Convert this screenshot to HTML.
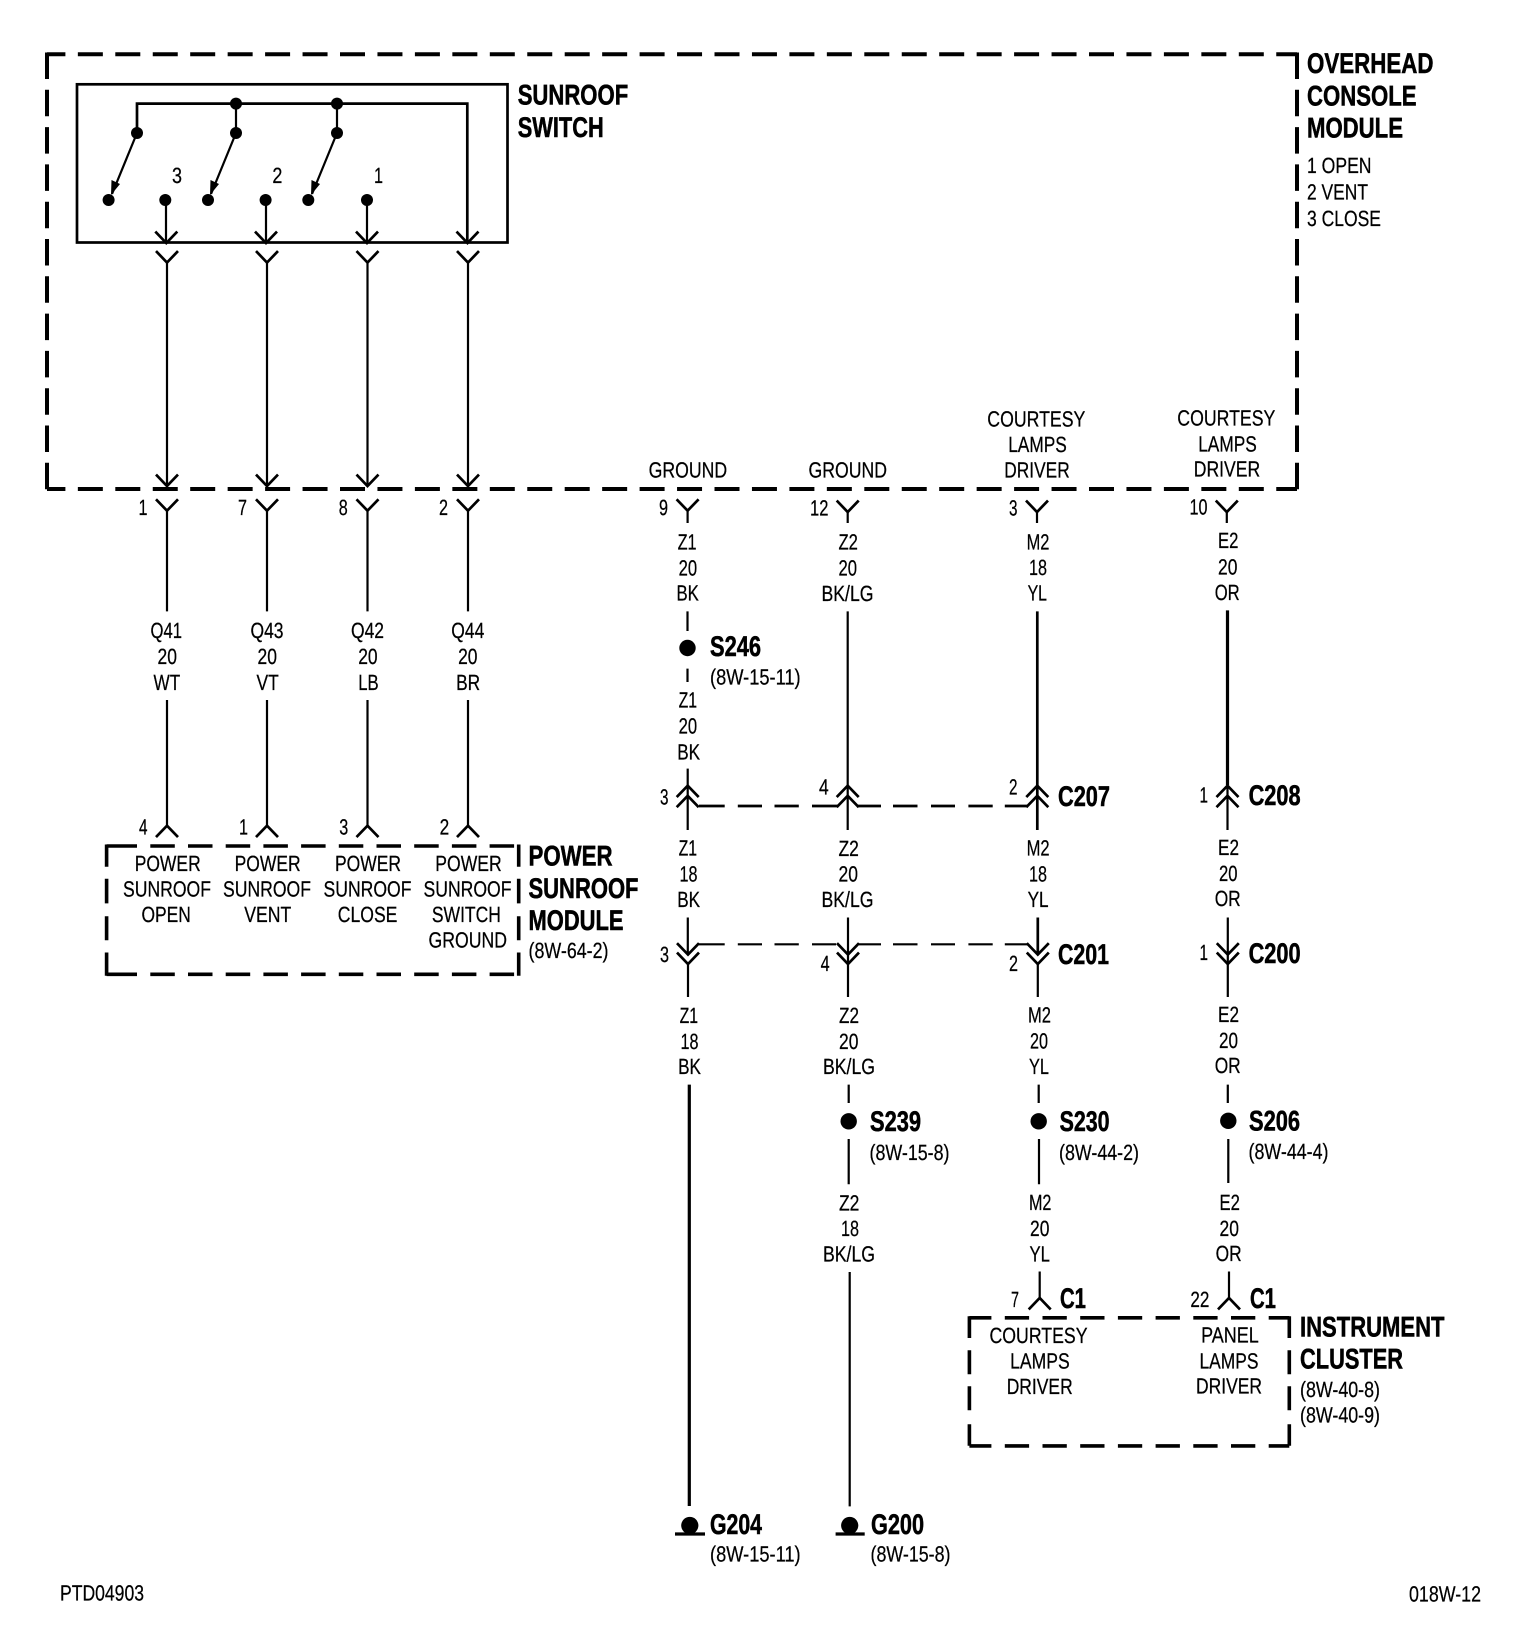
<!DOCTYPE html>
<html><head><meta charset="utf-8"><style>
html,body{margin:0;padding:0;background:#fff}
svg{display:block}
text{font-family:"Liberation Sans",Arial,sans-serif;fill:#000;font-size:22px;text-rendering:geometricPrecision;stroke:#000;stroke-width:.25}
text.b{font-weight:bold;font-size:28.5px;stroke:#000;stroke-width:.55}
.l{stroke:#000;fill:none;stroke-width:2.2}
.t{stroke:#000;fill:none;stroke-width:2.7}
.h{stroke:#000;fill:none;stroke-width:3.2}
.d{stroke:#000;fill:none;stroke-width:4}
.m{stroke:#000;fill:none;stroke-width:3.6}
</style></head><body>
<svg width="1520" height="1648" viewBox="0 0 1520 1648" xmlns="http://www.w3.org/2000/svg">
<defs>
<path id="v" d="M-11,-11.4L0,0L11,-11.4" class="t"/>
<path id="u" d="M-11,11.4L0,0L11,11.4" class="t"/>
</defs>
<rect width="1520" height="1648" fill="#fff"/>

<!-- overhead console outer dashed box -->
<path class="d" d="M47,54.3H1297" stroke-dasharray="25 12.45" stroke-dashoffset="6.6"/>
<path class="d" d="M47,489H1297" stroke-dasharray="25 12.45" stroke-dashoffset="6.6"/>
<path class="d" d="M47,52.5V490.8" stroke-dasharray="26.5 10.8"/>
<path class="d" d="M1297,52.5V490.8" stroke-dasharray="26.5 10.8"/>

<!-- sunroof switch -->
<rect x="77" y="84.3" width="430.5" height="158.2" class="t"/>
<path class="t" d="M137,133V103.6H467.3V243"/>
<path class="l" d="M236,103.6V133M337,103.6V133"/>
<g>
<ellipse cx="137" cy="133" rx="6" ry="6"/><ellipse cx="236" cy="103.6" rx="6" ry="6"/><ellipse cx="236" cy="133" rx="6" ry="6"/><ellipse cx="337" cy="103.6" rx="6" ry="6"/><ellipse cx="337" cy="133" rx="6" ry="6"/>
<ellipse cx="108.6" cy="200" rx="6" ry="6"/><ellipse cx="165.3" cy="200" rx="6" ry="6"/><ellipse cx="208" cy="200" rx="6" ry="6"/><ellipse cx="265.6" cy="200" rx="6" ry="6"/><ellipse cx="308.3" cy="200" rx="6" ry="6"/><ellipse cx="367" cy="200" rx="6" ry="6"/>
</g>
<path class="l" d="M137,133L112,194M236,133L211,194M337,133L312,194"/>
<path d="M111,195L111.5,180L120,184ZM210,195L210.5,180L219,184ZM311,195L311.5,180L320,184Z"/>
<path class="l" d="M166,200V243M266,200V243M367,200V243"/>
<use href="#v" x="166.3" y="243"/><use href="#v" x="266" y="243"/><use href="#v" x="367" y="243"/><use href="#v" x="467.5" y="243"/>

<!-- four wires inside console -->
<g>
<use href="#v" x="167" y="262.5"/><use href="#v" x="267" y="262.5"/><use href="#v" x="367.5" y="262.5"/><use href="#v" x="468" y="262.5"/>
<use href="#v" x="167" y="486"/><use href="#v" x="267" y="486"/><use href="#v" x="367.5" y="486"/><use href="#v" x="468" y="486"/>
<use href="#v" x="167" y="510.7"/><use href="#v" x="267" y="510.7"/><use href="#v" x="367.5" y="510.7"/><use href="#v" x="468" y="510.7"/>
<use href="#u" x="167" y="825.7"/><use href="#u" x="267" y="825.7"/><use href="#u" x="367.5" y="825.7"/><use href="#u" x="468" y="825.7"/>
</g>
<path class="l" d="M167,262V486M267,262V486M367.5,262V486M468,262V486"/>
<path class="l" d="M167,510V611.4M267,510V611.4M367.5,510V611.4M468,510V611.4"/>
<path class="l" d="M167,700V826M267,700V826M367.5,700V826M468,700V826"/>

<!-- power sunroof module box -->
<path class="m" d="M106.6,846H137"/>
<path class="m" d="M150.3,846H518.7" stroke-dasharray="24.5 13.2"/>
<path class="m" d="M106.6,974.3H137"/>
<path class="m" d="M150.3,974.3H518.7" stroke-dasharray="24.5 13.2"/>
<path class="m" d="M106.6,844.5V975.8" stroke-dasharray="22.3 12 24.6 12.8 24 12.3 24"/>
<path class="m" d="M518.7,844.5V975.8" stroke-dasharray="22.3 12 24.6 12.8 24 12.3 24"/>

<!-- column 1 (Z1) -->
<use href="#v" x="687.6" y="510.7"/><path class="l" d="M687.6,510V523"/>
<path class="l" d="M687.5,611.4V631M687.5,668.6V682"/>
<circle cx="687.5" cy="648" r="8.2"/>
<path class="l" d="M687.7,768.6V830"/><use href="#u" x="687.7" y="785.7"/><use href="#u" x="687.7" y="795.8"/>
<path class="l" d="M687.8,917.5V954M688,964V997"/><use href="#v" x="688" y="954.6"/><use href="#v" x="688" y="964"/>
<path class="h" d="M689.3,1084.6V1506"/>
<circle cx="689.8" cy="1525.5" r="8.6"/><path class="h" d="M675,1534H705"/>

<!-- column 2 (Z2) -->
<use href="#v" x="847.7" y="512"/><path class="l" d="M847.7,511V523"/>
<path class="l" d="M847.7,611.4V830"/><use href="#u" x="847.7" y="785.7"/><use href="#u" x="847.7" y="795.8"/>
<path class="l" d="M848,917.5V997"/><use href="#v" x="848" y="954.6"/><use href="#v" x="848" y="964"/>
<path class="l" d="M848.7,1084.6V1103M848.7,1139V1184.3M849.7,1272V1506.4"/>
<circle cx="848.7" cy="1121.3" r="8.2"/>
<circle cx="849.7" cy="1525.5" r="8.6"/><path class="h" d="M835.6,1534H864.7"/>

<!-- column 3 (M2) -->
<use href="#v" x="1037" y="512"/><path class="l" d="M1037,511V523"/>
<path class="t" d="M1037.3,611.4V830"/><use href="#u" x="1037.3" y="785.7"/><use href="#u" x="1037.3" y="795.8"/>
<path class="t" d="M1037.8,917.5V954"/><path class="l" d="M1037.8,964V997"/><use href="#v" x="1037.8" y="954.6"/><use href="#v" x="1037.8" y="964"/>
<path class="l" d="M1038.7,1084.6V1103M1039,1139V1184.3M1039.7,1271.5V1298"/>
<circle cx="1038.7" cy="1121.3" r="8.2"/>
<use href="#u" x="1039.7" y="1298"/>

<!-- column 4 (E2) -->
<use href="#v" x="1226.8" y="512"/><path class="l" d="M1226.8,511V523"/>
<path class="h" d="M1227.5,610.4V785"/><path class="l" d="M1227.5,785V830"/><use href="#u" x="1227.5" y="785.7"/><use href="#u" x="1227.5" y="795.8"/>
<path class="l" d="M1227.8,917.5V997"/><use href="#v" x="1227.8" y="954.6"/><use href="#v" x="1227.8" y="964"/>
<path class="l" d="M1227.8,1084.6V1103M1228.3,1139V1183M1229,1271.5V1298"/>
<circle cx="1228.3" cy="1120.8" r="8.2"/>
<use href="#u" x="1229" y="1298"/>

<!-- splice dashes between connectors -->
<path class="t" d="M699,806H724.7M737.8,806H762M774.5,806H798.8M812,806H838M858,806H881M893,806H917.5M931,806H955M968.4,806H992.7M1004.8,806H1028"/>
<path class="l" d="M699,944.3H724.7M737.8,944.3H762M774.5,944.3H798.8M812,944.3H836M859,944.3H881M893,944.3H917.5M931,944.3H955M968.4,944.3H992.7M1004.8,944.3H1027"/>

<!-- instrument cluster box -->
<path class="m" d="M969.4,1317.8H1289.3" stroke-dasharray="24.3 13.4" stroke-dashoffset="2.3"/>
<path class="m" d="M969.4,1445.9H1289.3" stroke-dasharray="24.3 13.4" stroke-dashoffset="2.3"/>
<path class="m" d="M969.4,1316.3V1447.4" stroke-dasharray="21.7 12.3 24 12 24 14 21.5"/>
<path class="m" d="M1289.3,1316.3V1447.4" stroke-dasharray="21.7 12.3 24 12 24 14 21.5"/>

<!-- bold labels -->
<text class="b" x="517.7" y="104.6" textLength="110.5" lengthAdjust="spacingAndGlyphs">SUNROOF</text>
<text class="b" x="517.7" y="136.8" textLength="86" lengthAdjust="spacingAndGlyphs">SWITCH</text>
<text class="b" x="1307" y="73.2" textLength="126.5" lengthAdjust="spacingAndGlyphs">OVERHEAD</text>
<text class="b" x="1307" y="105.4" textLength="109.5" lengthAdjust="spacingAndGlyphs">CONSOLE</text>
<text class="b" x="1307" y="137.5" textLength="96" lengthAdjust="spacingAndGlyphs">MODULE</text>
<text class="b" x="528.5" y="865.7" textLength="84" lengthAdjust="spacingAndGlyphs">POWER</text>
<text class="b" x="528.5" y="898" textLength="110" lengthAdjust="spacingAndGlyphs">SUNROOF</text>
<text class="b" x="528.5" y="930" textLength="95" lengthAdjust="spacingAndGlyphs">MODULE</text>
<text class="b" x="710" y="656" textLength="51" lengthAdjust="spacingAndGlyphs">S246</text>
<text class="b" x="1058" y="806" textLength="52" lengthAdjust="spacingAndGlyphs">C207</text>
<text class="b" x="1248.6" y="805" textLength="52" lengthAdjust="spacingAndGlyphs">C208</text>
<text class="b" x="1058" y="964" textLength="51" lengthAdjust="spacingAndGlyphs">C201</text>
<text class="b" x="1248.6" y="963" textLength="52" lengthAdjust="spacingAndGlyphs">C200</text>
<text class="b" x="870" y="1131" textLength="51" lengthAdjust="spacingAndGlyphs">S239</text>
<text class="b" x="1059.6" y="1131" textLength="50" lengthAdjust="spacingAndGlyphs">S230</text>
<text class="b" x="1249" y="1130.5" textLength="51" lengthAdjust="spacingAndGlyphs">S206</text>
<text class="b" x="1060" y="1308" textLength="26" lengthAdjust="spacingAndGlyphs">C1</text>
<text class="b" x="1250" y="1308" textLength="26" lengthAdjust="spacingAndGlyphs">C1</text>
<text class="b" x="1300" y="1336.6" textLength="144.5" lengthAdjust="spacingAndGlyphs">INSTRUMENT</text>
<text class="b" x="1300" y="1368.6" textLength="103" lengthAdjust="spacingAndGlyphs">CLUSTER</text>
<text class="b" x="710" y="1534" textLength="52" lengthAdjust="spacingAndGlyphs">G204</text>
<text class="b" x="871" y="1534" textLength="53" lengthAdjust="spacingAndGlyphs">G200</text>

<!-- switch numbers and console notes -->
<text x="172" y="183" textLength="10" lengthAdjust="spacingAndGlyphs">3</text>
<text x="272.4" y="183" textLength="10" lengthAdjust="spacingAndGlyphs">2</text>
<text x="374" y="183" textLength="9" lengthAdjust="spacingAndGlyphs">1</text>
<text x="1307" y="173" textLength="64.5" lengthAdjust="spacingAndGlyphs">1 OPEN</text>
<text x="1307" y="199.6" textLength="61" lengthAdjust="spacingAndGlyphs">2 VENT</text>
<text x="1307" y="226" textLength="74" lengthAdjust="spacingAndGlyphs">3 CLOSE</text>

<!-- console pin labels -->
<text x="648.6" y="477.7" textLength="78.5" lengthAdjust="spacingAndGlyphs">GROUND</text>
<text x="808.5" y="477.7" textLength="78.5" lengthAdjust="spacingAndGlyphs">GROUND</text>
<text x="987.3" y="426.3" textLength="98" lengthAdjust="spacingAndGlyphs">COURTESY</text>
<text x="1008.2" y="452" textLength="58.6" lengthAdjust="spacingAndGlyphs">LAMPS</text>
<text x="1004.3" y="477.5" textLength="65.4" lengthAdjust="spacingAndGlyphs">DRIVER</text>
<text x="1177.3" y="425.5" textLength="98" lengthAdjust="spacingAndGlyphs">COURTESY</text>
<text x="1198.2" y="451.3" textLength="58.6" lengthAdjust="spacingAndGlyphs">LAMPS</text>
<text x="1193.8" y="476.5" textLength="66.4" lengthAdjust="spacingAndGlyphs">DRIVER</text>
<text x="138.5" y="515" textLength="9" lengthAdjust="spacingAndGlyphs">1</text>
<text x="238" y="515" textLength="9" lengthAdjust="spacingAndGlyphs">7</text>
<text x="338.8" y="515" textLength="9" lengthAdjust="spacingAndGlyphs">8</text>
<text x="439" y="515" textLength="9" lengthAdjust="spacingAndGlyphs">2</text>
<text x="659" y="515" textLength="9" lengthAdjust="spacingAndGlyphs">9</text>
<text x="810" y="515.5" textLength="18.4" lengthAdjust="spacingAndGlyphs">12</text>
<text x="1009" y="515.5" textLength="8.5" lengthAdjust="spacingAndGlyphs">3</text>
<text x="1189.5" y="514.5" textLength="18" lengthAdjust="spacingAndGlyphs">10</text>

<!-- Q wires -->
<text x="150.5" y="638.2" textLength="31.5" lengthAdjust="spacingAndGlyphs">Q41</text>
<text x="157.5" y="664" textLength="19.4" lengthAdjust="spacingAndGlyphs">20</text>
<text x="153.5" y="690" textLength="26.7" lengthAdjust="spacingAndGlyphs">WT</text>
<text x="250.5" y="638.2" textLength="33" lengthAdjust="spacingAndGlyphs">Q43</text>
<text x="257.5" y="664" textLength="19.4" lengthAdjust="spacingAndGlyphs">20</text>
<text x="256.5" y="690" textLength="22.3" lengthAdjust="spacingAndGlyphs">VT</text>
<text x="351" y="638.2" textLength="33" lengthAdjust="spacingAndGlyphs">Q42</text>
<text x="358.2" y="664" textLength="19.4" lengthAdjust="spacingAndGlyphs">20</text>
<text x="358.2" y="690" textLength="20.4" lengthAdjust="spacingAndGlyphs">LB</text>
<text x="451.3" y="638.2" textLength="33" lengthAdjust="spacingAndGlyphs">Q44</text>
<text x="458.1" y="664" textLength="19.4" lengthAdjust="spacingAndGlyphs">20</text>
<text x="456.1" y="690" textLength="24" lengthAdjust="spacingAndGlyphs">BR</text>
<text x="139" y="834.6" textLength="8.5" lengthAdjust="spacingAndGlyphs">4</text>
<text x="239" y="834.6" textLength="9" lengthAdjust="spacingAndGlyphs">1</text>
<text x="339.3" y="834.6" textLength="9" lengthAdjust="spacingAndGlyphs">3</text>
<text x="439.6" y="834.6" textLength="9.6" lengthAdjust="spacingAndGlyphs">2</text>

<!-- module pin text -->
<text x="134.7" y="871" textLength="66" lengthAdjust="spacingAndGlyphs">POWER</text>
<text x="123" y="896.4" textLength="88" lengthAdjust="spacingAndGlyphs">SUNROOF</text>
<text x="141.5" y="922" textLength="49.4" lengthAdjust="spacingAndGlyphs">OPEN</text>
<text x="234.6" y="871" textLength="66" lengthAdjust="spacingAndGlyphs">POWER</text>
<text x="223" y="896.4" textLength="88" lengthAdjust="spacingAndGlyphs">SUNROOF</text>
<text x="244.3" y="922" textLength="47" lengthAdjust="spacingAndGlyphs">VENT</text>
<text x="335" y="871" textLength="66" lengthAdjust="spacingAndGlyphs">POWER</text>
<text x="323.5" y="896.4" textLength="88" lengthAdjust="spacingAndGlyphs">SUNROOF</text>
<text x="337.8" y="922" textLength="59.6" lengthAdjust="spacingAndGlyphs">CLOSE</text>
<text x="435.3" y="871" textLength="66.4" lengthAdjust="spacingAndGlyphs">POWER</text>
<text x="423.5" y="896.4" textLength="88" lengthAdjust="spacingAndGlyphs">SUNROOF</text>
<text x="431.9" y="922" textLength="69" lengthAdjust="spacingAndGlyphs">SWITCH</text>
<text x="428.5" y="947.5" textLength="78.5" lengthAdjust="spacingAndGlyphs">GROUND</text>
<text x="528.5" y="958" textLength="80" lengthAdjust="spacingAndGlyphs">(8W-64-2)</text>

<!-- column 1 labels -->
<text x="677.6" y="549.5" textLength="19" lengthAdjust="spacingAndGlyphs">Z1</text>
<text x="678.6" y="575.7" textLength="18.5" lengthAdjust="spacingAndGlyphs">20</text>
<text x="676.5" y="600.7" textLength="22.3" lengthAdjust="spacingAndGlyphs">BK</text>
<text x="710" y="684.6" textLength="90.6" lengthAdjust="spacingAndGlyphs">(8W-15-11)</text>
<text x="678.6" y="707.5" textLength="18.5" lengthAdjust="spacingAndGlyphs">Z1</text>
<text x="678.6" y="733.5" textLength="18.5" lengthAdjust="spacingAndGlyphs">20</text>
<text x="677.2" y="759.3" textLength="22.8" lengthAdjust="spacingAndGlyphs">BK</text>
<text x="660" y="804.3" textLength="8.5" lengthAdjust="spacingAndGlyphs">3</text>
<text x="678.6" y="855.6" textLength="18.5" lengthAdjust="spacingAndGlyphs">Z1</text>
<text x="679.5" y="881.5" textLength="18" lengthAdjust="spacingAndGlyphs">18</text>
<text x="677.2" y="907" textLength="22.8" lengthAdjust="spacingAndGlyphs">BK</text>
<text x="660" y="962" textLength="9" lengthAdjust="spacingAndGlyphs">3</text>
<text x="679.6" y="1023" textLength="18.5" lengthAdjust="spacingAndGlyphs">Z1</text>
<text x="680.5" y="1049" textLength="18" lengthAdjust="spacingAndGlyphs">18</text>
<text x="678.1" y="1074" textLength="22.8" lengthAdjust="spacingAndGlyphs">BK</text>
<text x="710" y="1561.5" textLength="90.6" lengthAdjust="spacingAndGlyphs">(8W-15-11)</text>

<!-- column 2 labels -->
<text x="838.5" y="549.5" textLength="19.4" lengthAdjust="spacingAndGlyphs">Z2</text>
<text x="838.5" y="575.7" textLength="18.5" lengthAdjust="spacingAndGlyphs">20</text>
<text x="821.5" y="601" textLength="52" lengthAdjust="spacingAndGlyphs">BK/LG</text>
<text x="819" y="794.3" textLength="9.7" lengthAdjust="spacingAndGlyphs">4</text>
<text x="838.5" y="856" textLength="20.4" lengthAdjust="spacingAndGlyphs">Z2</text>
<text x="838.5" y="881.5" textLength="19.4" lengthAdjust="spacingAndGlyphs">20</text>
<text x="821.5" y="907" textLength="52" lengthAdjust="spacingAndGlyphs">BK/LG</text>
<text x="820.6" y="971" textLength="9" lengthAdjust="spacingAndGlyphs">4</text>
<text x="839" y="1023" textLength="20" lengthAdjust="spacingAndGlyphs">Z2</text>
<text x="839" y="1049" textLength="19.4" lengthAdjust="spacingAndGlyphs">20</text>
<text x="823" y="1074" textLength="52" lengthAdjust="spacingAndGlyphs">BK/LG</text>
<text x="869.5" y="1160" textLength="80" lengthAdjust="spacingAndGlyphs">(8W-15-8)</text>
<text x="839" y="1210.3" textLength="20.4" lengthAdjust="spacingAndGlyphs">Z2</text>
<text x="841" y="1236" textLength="18" lengthAdjust="spacingAndGlyphs">18</text>
<text x="823" y="1261.5" textLength="52" lengthAdjust="spacingAndGlyphs">BK/LG</text>
<text x="870.5" y="1561.5" textLength="80" lengthAdjust="spacingAndGlyphs">(8W-15-8)</text>

<!-- column 3 labels -->
<text x="1026.6" y="549.5" textLength="22.8" lengthAdjust="spacingAndGlyphs">M2</text>
<text x="1029" y="575" textLength="18" lengthAdjust="spacingAndGlyphs">18</text>
<text x="1027.6" y="600.7" textLength="19.4" lengthAdjust="spacingAndGlyphs">YL</text>
<text x="1009" y="794.3" textLength="8.5" lengthAdjust="spacingAndGlyphs">2</text>
<text x="1026.6" y="855.7" textLength="23" lengthAdjust="spacingAndGlyphs">M2</text>
<text x="1029" y="881.5" textLength="18" lengthAdjust="spacingAndGlyphs">18</text>
<text x="1027.6" y="906.8" textLength="21" lengthAdjust="spacingAndGlyphs">YL</text>
<text x="1009" y="971" textLength="9" lengthAdjust="spacingAndGlyphs">2</text>
<text x="1028" y="1022.5" textLength="23" lengthAdjust="spacingAndGlyphs">M2</text>
<text x="1030" y="1048.6" textLength="18" lengthAdjust="spacingAndGlyphs">20</text>
<text x="1029" y="1074" textLength="20" lengthAdjust="spacingAndGlyphs">YL</text>
<text x="1059" y="1160" textLength="80" lengthAdjust="spacingAndGlyphs">(8W-44-2)</text>
<text x="1029" y="1210" textLength="22.4" lengthAdjust="spacingAndGlyphs">M2</text>
<text x="1030" y="1236" textLength="19.4" lengthAdjust="spacingAndGlyphs">20</text>
<text x="1029.5" y="1261.5" textLength="20.4" lengthAdjust="spacingAndGlyphs">YL</text>
<text x="1011" y="1307" textLength="8" lengthAdjust="spacingAndGlyphs">7</text>

<!-- column 4 labels -->
<text x="1218" y="548" textLength="20.4" lengthAdjust="spacingAndGlyphs">E2</text>
<text x="1218" y="574.3" textLength="19.4" lengthAdjust="spacingAndGlyphs">20</text>
<text x="1214.7" y="600" textLength="25" lengthAdjust="spacingAndGlyphs">OR</text>
<text x="1199.5" y="802.5" textLength="8.5" lengthAdjust="spacingAndGlyphs">1</text>
<text x="1218" y="855" textLength="21" lengthAdjust="spacingAndGlyphs">E2</text>
<text x="1219" y="881" textLength="18.5" lengthAdjust="spacingAndGlyphs">20</text>
<text x="1214.7" y="906" textLength="26" lengthAdjust="spacingAndGlyphs">OR</text>
<text x="1199.5" y="960" textLength="8.5" lengthAdjust="spacingAndGlyphs">1</text>
<text x="1218" y="1022" textLength="21" lengthAdjust="spacingAndGlyphs">E2</text>
<text x="1219" y="1048" textLength="19" lengthAdjust="spacingAndGlyphs">20</text>
<text x="1214.7" y="1073" textLength="26" lengthAdjust="spacingAndGlyphs">OR</text>
<text x="1248.5" y="1159" textLength="80" lengthAdjust="spacingAndGlyphs">(8W-44-4)</text>
<text x="1219.5" y="1210" textLength="20.4" lengthAdjust="spacingAndGlyphs">E2</text>
<text x="1219.5" y="1236" textLength="19.4" lengthAdjust="spacingAndGlyphs">20</text>
<text x="1215.6" y="1261" textLength="26" lengthAdjust="spacingAndGlyphs">OR</text>
<text x="1190.4" y="1307" textLength="19" lengthAdjust="spacingAndGlyphs">22</text>

<!-- instrument cluster text -->
<text x="989.5" y="1343" textLength="98" lengthAdjust="spacingAndGlyphs">COURTESY</text>
<text x="1010.1" y="1368.6" textLength="59.6" lengthAdjust="spacingAndGlyphs">LAMPS</text>
<text x="1006.7" y="1394" textLength="66" lengthAdjust="spacingAndGlyphs">DRIVER</text>
<text x="1201.1" y="1342.7" textLength="57.7" lengthAdjust="spacingAndGlyphs">PANEL</text>
<text x="1199.5" y="1368.3" textLength="59" lengthAdjust="spacingAndGlyphs">LAMPS</text>
<text x="1196" y="1393.6" textLength="66" lengthAdjust="spacingAndGlyphs">DRIVER</text>
<text x="1300" y="1396.8" textLength="80" lengthAdjust="spacingAndGlyphs">(8W-40-8)</text>
<text x="1300" y="1422.7" textLength="80" lengthAdjust="spacingAndGlyphs">(8W-40-9)</text>

<!-- footer -->
<text x="60" y="1600.7" textLength="84" lengthAdjust="spacingAndGlyphs">PTD04903</text>
<text x="1409" y="1601.7" textLength="72" lengthAdjust="spacingAndGlyphs">018W-12</text>
</svg>
</body></html>
